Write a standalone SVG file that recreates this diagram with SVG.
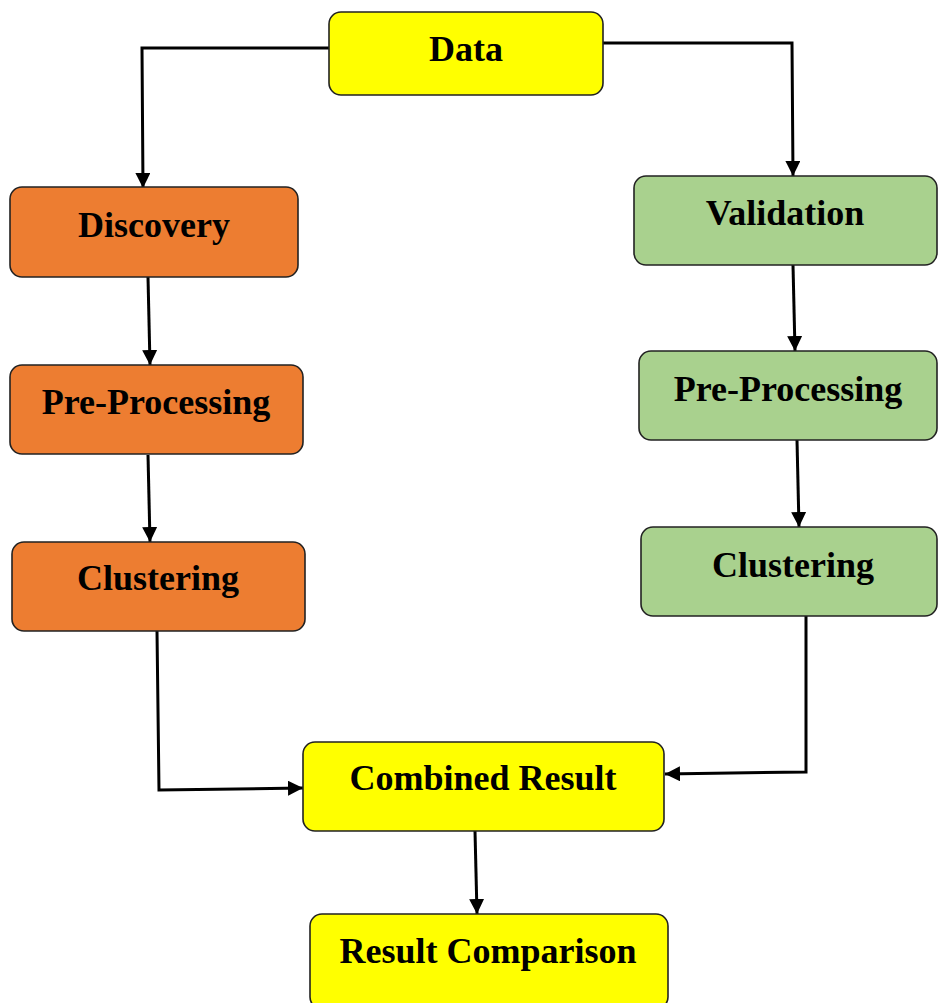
<svg xmlns="http://www.w3.org/2000/svg" width="939" height="1003" viewBox="0 0 939 1003">
<defs>
<style>
.box{stroke:#222;stroke-width:1.6}
.y{fill:#FFFF00}.o{fill:#ED7D31}.g{fill:#A9D18E}
.t{font-family:"Liberation Serif","Times New Roman",serif;font-weight:bold;font-size:36px;fill:#000;text-anchor:middle}
.c{fill:none;stroke:#000;stroke-width:3;marker-end:url(#ah)}
</style>
<marker id="ah" viewBox="0 0 10 10" refX="10" refY="5" markerWidth="5" markerHeight="5" markerUnits="strokeWidth" orient="auto">
<path d="M0,0 L10,5 L0,10 Z" fill="#000"/>
</marker>
</defs>
<rect width="939" height="1003" fill="#fff"/>
<g id="connectors">
<path class="c" d="M329,48 L142,48 L143,188"/>
<path class="c" d="M603,43 L792,43 L793,176"/>
<path class="c" d="M148,277 L150,365"/>
<path class="c" d="M148,455 L150,542"/>
<path class="c" d="M157,631 L159,790 L303,788"/>
<path class="c" d="M806,616 L806,772 L665,774"/>
<path class="c" d="M793,265 L795,351"/>
<path class="c" d="M797,440 L799,527"/>
<path class="c" d="M475,831 L477,914"/>
</g>
<g id="data"><rect class="box y" x="329" y="12" width="274" height="83" rx="12"/><text class="t" x="466" y="61">Data</text></g>
<g id="discovery"><rect class="box o" x="10" y="187" width="288" height="90" rx="12"/><text class="t" x="154" y="237">Discovery</text></g>
<g id="preproc-left"><rect class="box o" x="10" y="365" width="293" height="89" rx="12"/><text class="t" x="156" y="414">Pre-Processing</text></g>
<g id="cluster-left"><rect class="box o" x="12" y="542" width="293" height="89" rx="12"/><text class="t" x="158" y="590">Clustering</text></g>
<g id="validation"><rect class="box g" x="634" y="176" width="303" height="89" rx="12"/><text class="t" x="785" y="225">Validation</text></g>
<g id="preproc-right"><rect class="box g" x="639" y="351" width="298" height="89" rx="12"/><text class="t" x="788" y="401">Pre-Processing</text></g>
<g id="cluster-right"><rect class="box g" x="641" y="527" width="296" height="89" rx="12"/><text class="t" x="793" y="577">Clustering</text></g>
<g id="combined"><rect class="box y" x="303" y="742" width="361" height="89" rx="12"/><text class="t" x="483" y="790">Combined Result</text></g>
<g id="comparison"><rect class="box y" x="310" y="914" width="358" height="95" rx="12"/><text class="t" x="488" y="963">Result Comparison</text></g>
</svg>
